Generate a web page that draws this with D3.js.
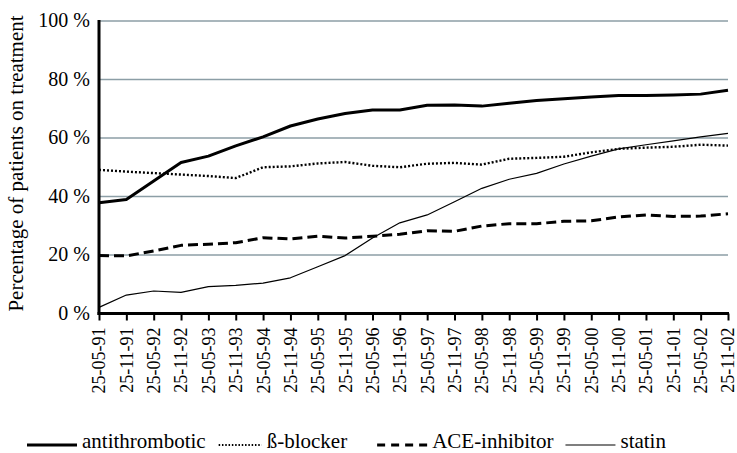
<!DOCTYPE html>
<html>
<head>
<meta charset="utf-8">
<script src="https://cdn.jsdelivr.net/npm/d3@7"></script>
<style>
html,body{margin:0;padding:0;background:#fff;}
svg{display:block;}
svg text{font-family:"Liberation Serif","DejaVu Serif",serif !important;fill:#000;}
</style>
</head>
<body>
<div id="chart"></div>
<script>
const dates = ["25-05-91","25-11-91","25-05-92","25-11-92","25-05-93","25-11-93","25-05-94","25-11-94","25-05-95","25-11-95","25-05-96","25-11-96","25-05-97","25-11-97","25-05-98","25-11-98","25-05-99","25-11-99","25-05-00","25-11-00","25-05-01","25-11-01","25-05-02","25-11-02"];
const antithrombotic = [37.9,39.0,45.3,51.6,53.8,57.3,60.4,64.1,66.5,68.4,69.6,69.6,71.2,71.3,70.9,71.9,72.8,73.4,74.0,74.5,74.5,74.7,75.0,76.3];
const betaBlocker = [49.1,48.5,48.0,47.5,47.0,46.3,50.0,50.3,51.3,51.8,50.5,50.0,51.2,51.5,50.9,52.9,53.2,53.6,55.1,56.3,56.7,57.0,57.7,57.4];
const aceInhibitor = [19.8,19.7,21.4,23.3,23.7,24.2,25.9,25.5,26.4,25.8,26.4,27.1,28.3,28.1,29.9,30.7,30.7,31.5,31.7,33.0,33.7,33.2,33.3,34.1];
const statin = [2.1,6.3,7.7,7.2,9.2,9.6,10.4,12.2,16.0,19.8,25.8,31.0,33.7,38.2,42.8,45.9,47.9,51.1,53.8,56.3,57.7,59.0,60.4,61.6];
const yTicks = [0,20,40,60,80,100];
const seriesNames = ["antithrombotic","ß-blocker","ACE-inhibitor","statin"];

const W = 737, H = 453;
const mLeft = 99, mRight = 728, mTop = 21, mBottom = 313.5;
const FONT = "'Liberation Serif','DejaVu Serif',serif";

const svg = d3.select("#chart").append("svg").attr("width", W).attr("height", H)
  .attr("font-family", FONT);

const x = d3.scalePoint().domain(dates).range([mLeft, mRight]);
const y = d3.scaleLinear().domain([0, 100]).range([mBottom, mTop]);

// gridlines
svg.append("g").selectAll("line").data(yTicks.filter(d => d > 0)).join("line")
  .attr("x1", mLeft).attr("x2", mRight)
  .attr("y1", d => y(d)).attr("y2", d => y(d))
  .attr("stroke", "#8c9ea6").attr("stroke-width", 1.5);

// y tick labels
svg.append("g").selectAll("text").data(yTicks).join("text")
  .attr("x", 90).attr("y", d => y(d)).attr("dy", "0.32em")
  .attr("text-anchor", "end").attr("font-size", 20)
  .text(d => d + " %");

// y axis title
svg.append("text")
  .attr("transform", `translate(23,${(10 + 317) / 2}) rotate(-90)`)
  .attr("text-anchor", "middle").attr("font-size", 21)
  .text("Percentage of patients on treatment");

// series
const series = [
  {name: seriesNames[0], values: antithrombotic, width: 3, dash: null},
  {name: seriesNames[1], values: betaBlocker, width: 2.4, dash: "2 2"},
  {name: seriesNames[2], values: aceInhibitor, width: 3, dash: "10 5"},
  {name: seriesNames[3], values: statin, width: 1.2, dash: null}
];
const line = d3.line().x((d, i) => x(dates[i])).y(d => y(d));
svg.append("g").selectAll("path").data(series).join("path")
  .attr("d", d => line(d.values))
  .attr("fill", "none").attr("stroke", "#000")
  .attr("stroke-width", d => d.width)
  .attr("stroke-dasharray", d => d.dash)
  .attr("stroke-linejoin", "round");

// x axis
const xAxis = d3.axisBottom(x).tickSize(7).tickSizeOuter(0);
const gx = svg.append("g").attr("transform", `translate(0,${mBottom})`).call(xAxis)
  .attr("font-family", FONT).attr("font-size", 18);
gx.select(".domain").attr("stroke", "#000").attr("stroke-width", 3).attr("d", `M${mLeft - 1.5},0H${mRight + 1}`);
gx.selectAll(".tick line").attr("stroke", "#000").attr("stroke-width", 2);
gx.selectAll(".tick text")
  .attr("fill", "#000")
  .attr("transform", "rotate(-90)")
  .attr("x", -14).attr("y", 0).attr("dy", "0.33em")
  .attr("text-anchor", "end");

// y axis line
const yAxis = d3.axisLeft(y).tickValues([]).tickSizeOuter(0);
const gy = svg.append("g").attr("transform", `translate(${mLeft},0)`).call(yAxis);
gy.select(".domain").attr("stroke", "#000").attr("stroke-width", 3).attr("d", `M0,${mTop - 1}V${mBottom + 1.5}`);

// legend
const legend = svg.append("g");
const gaps = [13, 30, 12, 0];
const legendDash = [null, "1.5 1.8", "8 6", null];
const legendWidth = [3, 2, 3, 1.2];
let lx = 27;
series.forEach((s, i) => {
  const len = i === 1 ? 43 : 50;
  legend.append("line").attr("x1", lx).attr("x2", lx + len).attr("y1", 445).attr("y2", 445)
    .attr("stroke", "#000").attr("stroke-width", legendWidth[i]).attr("stroke-dasharray", legendDash[i]);
  const t = legend.append("text").attr("x", lx + len + 5).attr("y", 448).attr("font-size", 21).text(s.name);
  lx = lx + len + 5 + t.node().getComputedTextLength() + gaps[i];
});
</script>
</body>
</html>
